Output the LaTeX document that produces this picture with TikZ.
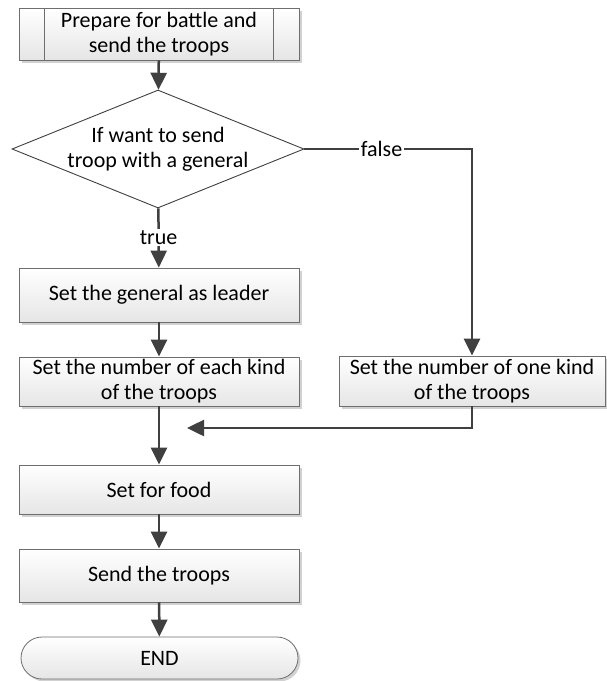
\documentclass[tikz,border=0pt]{standalone}
\usepackage{fontspec}
\setmainfont{Carlito}
\usetikzlibrary{arrows.meta,shapes.geometric,shapes.misc,shadows}
\definecolor{edgegray}{HTML}{404040}
\definecolor{boxborder}{HTML}{6E6E6E}
\begin{document}
\begin{tikzpicture}[x=1pt,y=-1pt,
  font=\fontsize{22}{25}\selectfont,
  boxshadow/.style={drop shadow={shadow xshift=2.5pt, shadow yshift=-2.5pt, fill=black!18, opacity=1}},
  box/.style={rectangle, draw=boxborder, line width=0.8pt, top color=white, bottom color=black!10,
    minimum width=280pt, minimum height=51pt, inner sep=0pt, align=center, boxshadow},
  endbox/.style={rounded rectangle, draw=boxborder, line width=0.8pt, top color=white, bottom color=black!10,
    minimum width=277pt, minimum height=42pt, inner sep=0pt, boxshadow},
  decision/.style={diamond, draw=edgegray, line width=0.9pt, fill=white,
    minimum width=292pt, minimum height=118pt, inner sep=0pt},
  flow/.style={draw=edgegray, line width=2.5pt, -{Triangle[length=17pt,width=16pt]}},
  lbl/.style={fill=white, inner sep=1.5pt}]
\useasboundingbox (0,0) rectangle (607,681);

% start block (predefined process)
\node[box, minimum height=52pt] (start) at (159,34) {Prepare for battle and\\send the troops};
\draw[boxborder, line width=0.8pt] ([xshift=26pt]start.north west) -- ([xshift=26pt]start.south west);
\draw[boxborder, line width=0.8pt] ([xshift=-26pt]start.north east) -- ([xshift=-26pt]start.south east);

% decision
\node[decision] (dec) at (158,149) {};
\node[align=center] (dectext) at (dec.center) {If want to send\\troop with a general};

% process steps
\node[box, minimum height=54pt] (leader) at (159,295) {Set the general as leader};
\node[box, minimum height=49pt] (each) at (159,381.5) {Set the number of each kind\\of the troops};
\node[box, minimum width=266pt, minimum height=50pt] (one) at (472,381) {Set the number of one kind\\of the troops};
\node[box, minimum height=49pt] (food) at (159,489.5) {Set for food};
\node[box, minimum height=53pt] (send) at (159,575.5) {Send the troops};
\node[endbox] (end) at (159.5,658) {END};

% connectors
\draw[flow] (start) -- (dec);
\draw[flow] (dec) -- node[lbl] {true} (leader);
\draw[flow] (dec.east) -- node[lbl, pos=0.46] {false} (one.north |- dec.east) -- (one.north);
\draw[flow] (leader) -- (each);
\draw[flow] (each) -- (food);
\coordinate (join) at (187,428);
\draw[flow] (one.south) |- (join);
\draw[flow] (food) -- (send);
\draw[flow] (send) -- (end);
\end{tikzpicture}
\end{document}
